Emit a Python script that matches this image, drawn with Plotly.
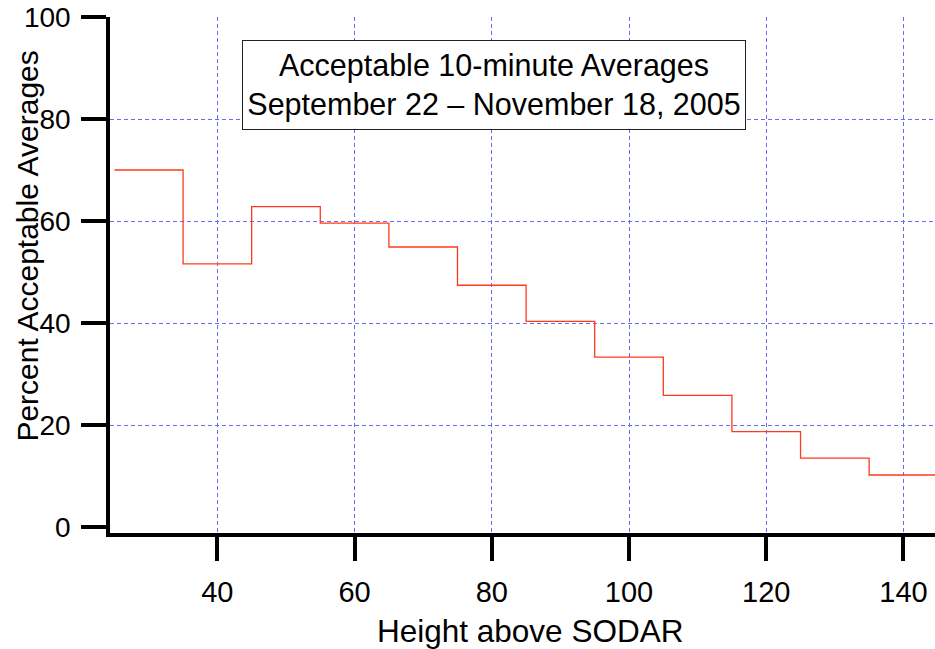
import plotly.graph_objects as go

# Data
heights = [30, 40, 50, 60, 70, 80, 90, 100, 110, 120, 130, 140]
pct_acceptable = [70.0, 51.6, 62.8, 59.6, 54.9, 47.4, 40.3, 33.3, 25.8, 18.7, 13.5, 10.2]
bin_width = 10
x_ticks = [40, 60, 80, 100, 120, 140]
y_ticks = [0, 20, 40, 60, 80, 100]
y_grid = [20, 40, 60, 80, 100]

# step edges (bins centered on each height)
edges = [h - bin_width / 2 for h in heights] + [heights[-1] + bin_width / 2]
vals = pct_acceptable + [pct_acceptable[-1]]

FONT = "Liberation Sans, Arial, sans-serif"
GRID = "rgb(105,105,255)"
DASH = "4px,3px"
YRANGE = [-6 / 5.1, 100]

fig = go.Figure()
fig.add_trace(go.Scatter(
    x=edges, y=vals, mode="lines",
    line=dict(color="#ff3a1a", width=1.3, shape="hv"),
    showlegend=False, hoverinfo="skip",
))
# invisible trace to host the grid-only overlay axis
fig.add_trace(go.Scatter(
    x=[heights[0]], y=[pct_acceptable[0]], yaxis="y2", mode="markers",
    marker=dict(opacity=0), showlegend=False, hoverinfo="skip",
))

fig.update_layout(
    width=935, height=649,
    margin=dict(l=110, r=0, t=17, b=116, autoexpand=False),
    paper_bgcolor="white", plot_bgcolor="white",
    font=dict(family=FONT, size=28, color="black"),
    xaxis=dict(
        range=[24.35, 144.6], tickvals=x_ticks,
        ticks="outside", ticklen=24, tickwidth=4, tickcolor="black",
        showline=True, linecolor="black", linewidth=3.5,
        showgrid=True, gridcolor=GRID, gridwidth=1, griddash=DASH,
        zeroline=False, tickfont=dict(size=29), ticklabelstandoff=6,
    ),
    yaxis=dict(
        range=YRANGE, tickvals=y_ticks,
        ticks="outside", ticklen=25, tickwidth=3.5, tickcolor="black",
        showline=True, linecolor="black", linewidth=3.5,
        showgrid=False, zeroline=False, tickfont=dict(size=28),
        ticklabelstandoff=5,
    ),
    yaxis2=dict(
        range=YRANGE, tickvals=y_grid, overlaying="y", side="left",
        showticklabels=False, ticks="", showline=False, zeroline=False,
        showgrid=True, gridcolor=GRID, gridwidth=1, griddash=DASH,
    ),
    annotations=[
        dict(text="Acceptable 10-minute Averages<br>September 22 – November 18, 2005",
             xref="paper", yref="paper", x=0.4655, y=0.8685,
             xanchor="center", yanchor="middle", showarrow=False,
             font=dict(size=30.5, family=FONT), align="center",
             bgcolor="white", bordercolor="#222222", borderwidth=1,
             width=500, height=86, borderpad=1),
        dict(text="Height above SODAR", xref="paper", yref="paper",
             x=0.509, y=0, yshift=-98, xanchor="center", yanchor="middle",
             showarrow=False, font=dict(size=31.5, family=FONT)),
        dict(text="Percent Acceptable Averages", xref="paper", yref="paper",
             x=0, xshift=-82, y=0.555, xanchor="center", yanchor="middle",
             textangle=-90, showarrow=False, font=dict(size=30, family=FONT)),
    ],
)

fig.write_html(
    "out.html",
    config={"displayModeBar": False},
    post_script="document.body.style.margin='0';document.body.style.overflow='hidden';",
)
